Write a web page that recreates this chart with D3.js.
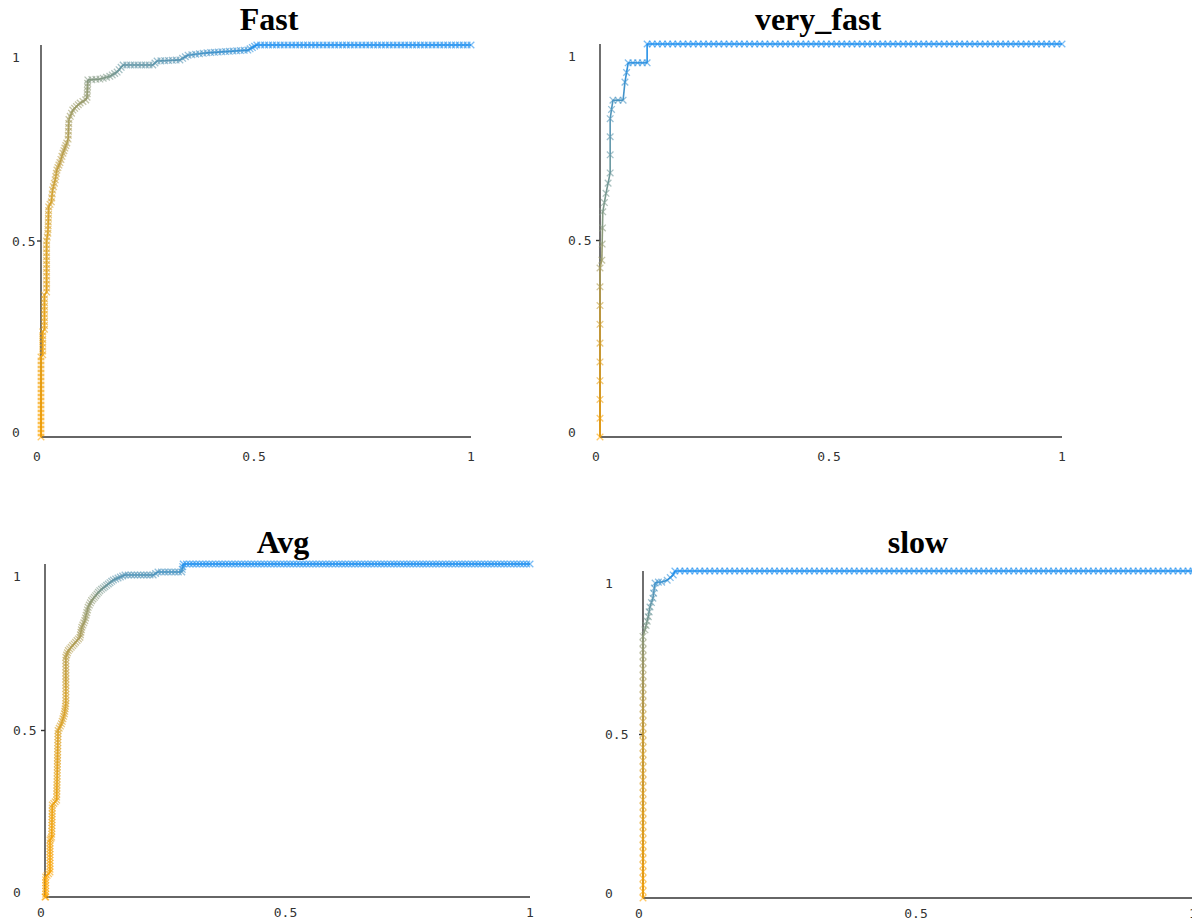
<!DOCTYPE html>
<html lang="en">
<head>
<meta charset="UTF-8">
<title>ROC curves</title>
<script src="https://d3js.org/d3.v7.min.js"></script>
<style>
  body { margin: 0; background: #fff; }
  svg { display: block; }
</style>
</head>
<body>
<div id="chart"></div>
<script>
// panel titles
const names = ["Fast", "very_fast", "Avg", "slow"];

// roc vertices [fpr, tpr]
const fastRoc = [[0,0],[0,0.204],[0.004,0.21],[0.004,0.268],[0.008,0.275],[0.008,0.362],[0.013,0.37],[0.013,0.5],
  [0.016,0.52],[0.018,0.587],[0.024,0.6],[0.027,0.63],[0.033,0.656],[0.037,0.681],[0.044,0.7],[0.051,0.724],
  [0.06,0.75],[0.063,0.76],[0.065,0.81],[0.074,0.834],[0.091,0.852],[0.104,0.86],[0.107,0.867],[0.109,0.911],
  [0.137,0.913],[0.16,0.92],[0.177,0.931],[0.191,0.949],[0.26,0.949],[0.27,0.959],[0.323,0.962],[0.342,0.974],
  [0.386,0.98],[0.481,0.987],[0.502,1],[1,1]];
const veryFastRoc = [[0,0],[0,0.43],[0.004,0.45],[0.006,0.573],[0.013,0.62],[0.022,0.672],[0.022,0.81],
  [0.028,0.857],[0.05,0.857],[0.054,0.903],[0.061,0.952],[0.102,0.952],[0.102,1],[1,1]];
const avgRoc = [[0,0],[0.0014,0],[0.0014,0.06],[0.0103,0.075],[0.0103,0.171],[0.0138,0.18],[0.015,0.276],
  [0.024,0.291],[0.027,0.5],[0.034,0.52],[0.04,0.55],[0.043,0.58],[0.043,0.72],[0.048,0.74],[0.072,0.78],
  [0.076,0.81],[0.082,0.83],[0.089,0.87],[0.096,0.89],[0.113,0.92],[0.141,0.952],[0.165,0.967],[0.223,0.967],
  [0.233,0.976],[0.282,0.976],[0.285,1],[1,1]];
const slowRoc = [[0,0],[0,0.8],[0.0036,0.82],[0.0096,0.86],[0.0127,0.89],[0.018,0.917],[0.022,0.963],
  [0.028,0.966],[0.034,0.966],[0.044,0.972],[0.055,0.988],[0.058,1],[1,1]];
const rocs = [fastRoc, veryFastRoc, avgRoc, slowRoc];

// sample counts, gives the spacing of the x markers
const positives = [100, 22, 110, 50];
const negatives = [110, 90, 150, 110];
// tpr stops for colour 0.2 / 0.5 / 0.8 of the way from orange to blue
const colorLow = [0.62, 0.3, 0.62, 0.5];
const colorMid = [0.9, 0.5, 0.9, 0.8];
const colorHigh = [0.975, 0.85, 0.975, 0.95];

const tickValues = [0, 0.5, 1];
const tickLabels = ["0", "0.5", "1"];

const width = 1192, height = 920;

// plot boxes (pixels)
const boxes = [
  {x0: 41, x1: 471, y0: 45, y1: 437, tx: 269, ty: 30, lx: 12, ly: 19},
  {x0: 600, x1: 1062, y0: 44, y1: 437, tx: 818, ty: 30, lx: 568, ly: 19},
  {x0: 45, x1: 530, y0: 564, y1: 897, tx: 283, ty: 553, lx: 13, ly: 15},
  {x0: 643, x1: 1193, y0: 571, y1: 898, tx: 918, ty: 553, lx: 605, ly: 15}
];

const svg = d3.select("#chart").append("svg")
    .attr("width", width)
    .attr("height", height);

const mix = d3.interpolateRgb("#ffa500", "#1e90f0");
const cross = "M-3.3,-3.3L3.3,3.3M-3.3,3.3L3.3,-3.3";

names.forEach((name, i) => {
    const b = boxes[i];
    const x = d3.scaleLinear().domain([0, 1]).range([b.x0, b.x1]);
    const y = d3.scaleLinear().domain([0, 1]).range([b.y1, b.y0]);
    const t = d3.scaleLinear()
        .domain([0, colorLow[i], colorMid[i], colorHigh[i], 1])
        .range([0, 0.2, 0.5, 0.8, 1]).clamp(true);
    const g = svg.append("g");

    // axes
    g.append("line")
        .attr("x1", x(0)).attr("x2", x(1))
        .attr("y1", y(0)).attr("y2", y(0))
        .attr("stroke", "#333").attr("stroke-width", 1.4);
    g.append("line")
        .attr("x1", x(0)).attr("x2", x(0))
        .attr("y1", y(0)).attr("y2", y(1))
        .attr("stroke", "#333").attr("stroke-width", 1.4);
    g.append("line")
        .attr("x1", x(0) - 4).attr("x2", x(0))
        .attr("y1", y(0.5)).attr("y2", y(0.5))
        .attr("stroke", "#333").attr("stroke-width", 1.4);

    // tick labels
    const yShift = v => v === 1 ? 12 : (v === 0 ? -5 : 0);
    g.selectAll(".yl").data(tickValues).join("text")
        .attr("x", b.lx)
        .attr("y", d => y(d) + yShift(d))
        .attr("dominant-baseline", "central")
        .attr("font-family", "DejaVu Sans Mono")
        .attr("font-size", 13)
        .attr("fill", "#333")
        .text((d, k) => tickLabels[k]);
    const xShift = v => v === 0 ? -4 : (v === 0.5 ? -2 : 0);
    g.selectAll(".xl").data(tickValues).join("text")
        .attr("x", d => x(d) + xShift(d))
        .attr("y", y(0) + b.ly)
        .attr("text-anchor", "middle")
        .attr("dominant-baseline", "central")
        .attr("font-family", "DejaVu Sans Mono")
        .attr("font-size", 13)
        .attr("fill", "#333")
        .text((d, k) => tickLabels[k]);

    // title
    g.append("text")
        .attr("x", b.tx).attr("y", b.ty)
        .attr("text-anchor", "middle")
        .attr("font-family", "Liberation Serif")
        .attr("font-weight", "bold")
        .attr("font-size", 32)
        .text(name);

    // one marker per sample step along the curve
    const roc = rocs[i];
    const pts = [roc[0]];
    for (let k = 1; k < roc.length; k++) {
        const a = roc[k - 1], c = roc[k];
        const n = Math.max(1, Math.round(Math.abs(c[0] - a[0]) * negatives[i] + Math.abs(c[1] - a[1]) * positives[i]));
        for (let j = 1; j <= n; j++) pts.push([a[0] + (c[0] - a[0]) * j / n, a[1] + (c[1] - a[1]) * j / n]);
    }

    const segs = d3.pairs(pts);
    g.selectAll(".seg").data(segs).join("line")
        .attr("x1", d => x(d[0][0])).attr("y1", d => y(d[0][1]))
        .attr("x2", d => x(d[1][0])).attr("y2", d => y(d[1][1]))
        .attr("stroke", d => mix(t((d[0][1] + d[1][1]) / 2)))
        .attr("stroke-width", 1.6);

    g.selectAll(".mk").data(pts).join("path")
        .attr("d", cross)
        .attr("transform", d => `translate(${x(d[0])},${y(d[1])})`)
        .attr("fill", "none")
        .attr("stroke", d => mix(t(d[1])))
        .attr("stroke-width", 1.3)
        .attr("opacity", 0.6);
});
</script>
</body>
</html>
